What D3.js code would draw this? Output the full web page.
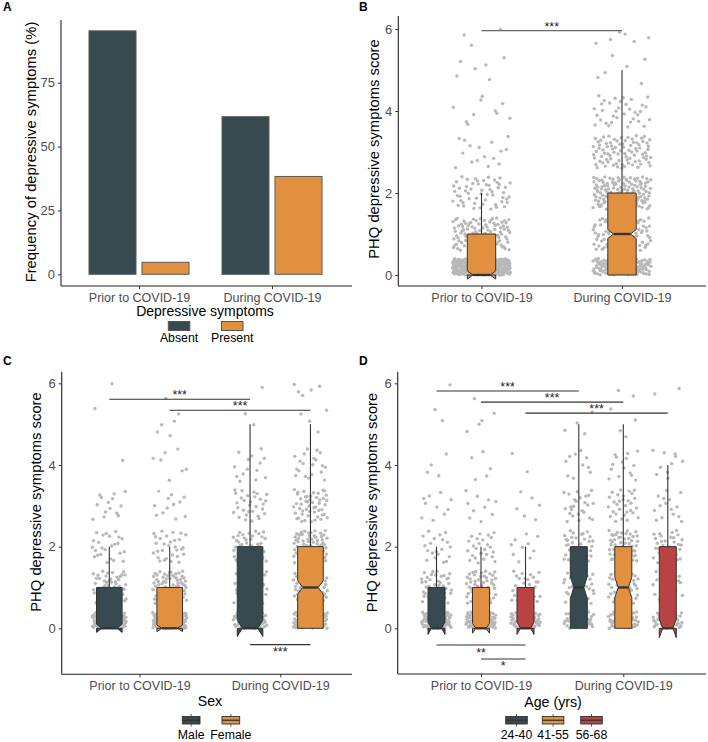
<!DOCTYPE html>
<html><head><meta charset="utf-8">
<script src="https://cdn.jsdelivr.net/npm/d3@7"></script>
<style>body{margin:0;background:#fff}svg{display:block;font-family:"Liberation Sans",Arial,Helvetica,sans-serif}</style>
</head><body><script>
// ================= DATA =================
const periods = ["Prior to COVID-19", "During COVID-19"];
const symptomGroups = ["Absent", "Present"];
const freqAbsent = [95.3, 61.7];
const freqPresent = [4.7, 38.3];
const freqTicks = [0, 25, 50, 75];
const scoreTicks = [0, 2, 4, 6];
const scoreLevels = [0, 1, 2, 3, 4, 5, 6];

// Panel B - respondents per PHQ score level (0..6)
const countsPrior  = [250, 110, 55, 16, 10, 6, 3];
const countsDuring = [120, 90, 140, 85, 35, 6, 6];
// box stats: [lowWhisker, q1, median, q3, highWhisker, notchHalfWidth]
const boxPrior  = [0, 0, 0, 1, 2, 0.10];
const boxDuring = [0, 0, 1, 2, 5, 0.11];
const sigB = [{p1: 0, p2: 1, y: 5.96, label: "***"}];

// Panel C - by sex
const sexGroups = ["Male", "Female"];
const countsMalePrior    = [100, 55, 25, 14, 1, 1, 1];
const countsFemalePrior  = [130, 75, 30, 12, 7, 5, 1];
const countsMaleDuring   = [55, 40, 45, 30, 14, 2, 1];
const countsFemaleDuring = [75, 65, 75, 50, 20, 4, 5];
const boxMalePrior    = [0, 0, 0, 1, 2, 0.10];
const boxFemalePrior  = [0, 0, 0, 1, 2, 0.08];
const boxMaleDuring   = [0, 0, 0, 2, 5, 0.20];
const boxFemaleDuring = [0, 0, 1, 2, 5, 0.17];
const sigC = [
  {p1: 0, g1: 0, p2: 1, g2: 0, y: 5.61, label: "***", below: false},
  {p1: 0, g1: 1, p2: 1, g2: 1, y: 5.34, label: "***", below: false},
  {p1: 1, g1: 0, p2: 1, g2: 1, y: -0.40, label: "***", below: true}
];

// Panel D - by age
const ageGroups = ["24-40", "41-55", "56-68"];
const countsAgePrior = [
  [75, 45, 20, 10, 4, 2, 1],
  [80, 55, 25, 10, 5, 4, 1],
  [55, 30, 10, 6, 2, 0, 0]
];
const countsAgeDuring = [
  [40, 35, 40, 25, 10, 4, 0],
  [50, 45, 55, 30, 15, 4, 2],
  [40, 20, 35, 15, 10, 0, 2]
];
const boxAgePrior = [
  [0, 0, 0, 1, 2, 0.15],
  [0, 0, 0, 1, 2, 0.12],
  [0, 0, 0, 1, 2, 0.15]
];
const boxAgeDuring = [
  [0, 0, 1, 2, 5, 0.28],
  [0, 0, 1, 2, 5, 0.25],
  [0, 0, 0, 2, 4, 0.23]
];
const sigD = [
  {p1: 0, g1: 0, p2: 1, g2: 0, y: 5.81, label: "***", below: false},
  {p1: 0, g1: 1, p2: 1, g2: 1, y: 5.54, label: "***", below: false},
  {p1: 0, g1: 2, p2: 1, g2: 2, y: 5.27, label: "***", below: false},
  {p1: 0, g1: 0, p2: 0, g2: 2, y: -0.41, label: "**", below: true},
  {p1: 0, g1: 1, p2: 0, g2: 2, y: -0.75, label: "*", below: true}
];

// ================= STYLE =================
const C_DARK = "#374a50", C_ORANGE = "#e0903f", C_RED = "#b84244";
const C_PT = "#b8b8b8", C_LINE = "#333333", C_TICK = "#4d4d4d";

const svg = d3.select("body").append("svg").attr("width", 708).attr("height", 742);

function halton(i, b) { let f = 1, r = 0; while (i > 0) { f /= b; r += f * (i % b); i = Math.floor(i / b); } return r; }

function axes(g, x, y, ticks, left, right, top, bottom, yTitle, yTitlePos, tickFmt) {
  // axis lines
  g.append("line").attr("x1", left).attr("x2", left).attr("y1", top).attr("y2", bottom)
    .attr("stroke", "#222").attr("stroke-width", 1.1);
  g.append("line").attr("x1", left).attr("x2", right).attr("y1", bottom).attr("y2", bottom)
    .attr("stroke", "#222").attr("stroke-width", 1.1);
  const ya = g.append("g").attr("transform", `translate(${left},0)`)
    .call(d3.axisLeft(y).tickValues(ticks).tickSize(3).tickPadding(3).tickFormat(tickFmt || d3.format("d")));
  ya.select(".domain").remove();
  ya.selectAll("line").attr("stroke", "#333");
  ya.selectAll("text").attr("fill", C_TICK).style("font-size", "13px").attr("font-family", null);
  const xa = g.append("g").attr("transform", `translate(0,${bottom})`)
    .call(d3.axisBottom(x).tickSize(3).tickPadding(4));
  xa.select(".domain").remove();
  xa.selectAll("line").attr("stroke", "#333");
  xa.selectAll("text").attr("fill", C_TICK).style("font-size", "12.5px").attr("font-family", null);
  g.append("text").attr("transform", `translate(${yTitlePos[0]},${yTitlePos[1]}) rotate(-90)`)
    .attr("text-anchor", "middle").attr("dominant-baseline", "central")
    .style("font-size", "14.8px").attr("fill", "#000").text(yTitle);
}

function points(g, cx, halfW, counts, y, seed) {
  let k = seed;
  const pts = [];
  counts.forEach((n, lvl) => {
    for (let j = 0; j < n; j++) {
      k++;
      const hx = halton(k, 2), hy = halton(k, 3);
      let off;
      if (scoreLevels[lvl] === 0) off = 0.4 * hy;
      else if (scoreLevels[lvl] === 6) off = -0.4 * hy;
      else off = (hy * 2 - 1) * 0.4;
      pts.push([cx + (hx * 2 - 1) * halfW, y(scoreLevels[lvl] + off)]);
    }
  });
  g.append("g").selectAll("circle").data(pts).join("circle")
    .attr("cx", d => d[0]).attr("cy", d => d[1]).attr("r", 1.7).attr("fill", C_PT);
}

function box(g, cx, w, s, y, fill) {
  const [lo, q1, med, q3, hi, nh] = s;
  const nw = 0.6;
  const x0 = cx - w / 2, x1 = cx + w / 2, m0 = cx - w * nw / 2, m1 = cx + w * nw / 2;
  g.append("line").attr("x1", cx).attr("x2", cx).attr("y1", y(q3)).attr("y2", y(hi))
    .attr("stroke", C_LINE).attr("stroke-width", 1.1);
  if (lo < q1) g.append("line").attr("x1", cx).attr("x2", cx).attr("y1", y(q1)).attr("y2", y(lo))
    .attr("stroke", C_LINE).attr("stroke-width", 1.1);
  const p = d3.path();
  p.moveTo(x0, y(q3)); p.lineTo(x1, y(q3)); p.lineTo(x1, y(med + nh)); p.lineTo(m1, y(med));
  p.lineTo(x1, y(med - nh)); p.lineTo(x1, y(q1)); p.lineTo(x0, y(q1)); p.lineTo(x0, y(med - nh));
  p.lineTo(m0, y(med)); p.lineTo(x0, y(med + nh)); p.closePath();
  g.append("path").attr("d", p.toString()).attr("fill", fill).attr("stroke", C_LINE).attr("stroke-width", 1);
  g.append("line").attr("x1", m0).attr("x2", m1).attr("y1", y(med)).attr("y2", y(med))
    .attr("stroke", C_LINE).attr("stroke-width", 2.3);
}

function sig(g, xa, xb, yv, y, label, below, color, sw) {
  g.append("line").attr("x1", xa).attr("x2", xb).attr("y1", y(yv)).attr("y2", y(yv))
    .attr("stroke", color).attr("stroke-width", sw);
  g.append("text").attr("x", (xa + xb) / 2).attr("y", y(yv) + (below ? 11.5 : 0))
    .attr("text-anchor", "middle").style("font-size", "12.5px").attr("fill", "#222").text(label);
}

function panelLabel(x, y, t) {
  svg.append("text").attr("x", x).attr("y", y).style("font-size", "12px").style("font-weight", "bold").text(t);
}

function boxLegend(g, title, titleX, titleY, labels, colors, keyXs, keyW) {
  g.append("text").attr("x", titleX).attr("y", titleY).attr("text-anchor", "middle")
    .style("font-size", "14.2px").text(title);
  labels.forEach((lab, i) => {
    const x = keyXs[i], cx = x + keyW / 2;
    g.append("line").attr("x1", cx).attr("x2", cx).attr("y1", 714).attr("y2", 726.5).attr("stroke", C_LINE).attr("stroke-width", 0.8);
    g.append("rect").attr("x", x).attr("y", 716.5).attr("width", keyW).attr("height", 7.5)
      .attr("fill", colors[i]).attr("stroke", C_LINE).attr("stroke-width", 0.9);
    g.append("line").attr("x1", x).attr("x2", x + keyW).attr("y1", 720.25).attr("y2", 720.25).attr("stroke", C_LINE).attr("stroke-width", 1.3);
    g.append("text").attr("x", cx).attr("y", 738.5).attr("text-anchor", "middle").style("font-size", "12.3px").text(lab);
  });
}

// ================= PANEL A =================
(function () {
  const g = svg.append("g");
  const x = d3.scalePoint().domain(periods).range([139, 272]);
  const sub = d3.scaleBand().domain(symptomGroups).range([-50, 50]).paddingInner(0.113);
  const y = d3.scaleLinear().domain([0, 75]).range([274.3, 82.7]);
  const colors = [C_DARK, C_ORANGE];
  const rows = periods.map((p, i) => [freqAbsent[i], freqPresent[i]]);
  periods.forEach((p, i) => {
    symptomGroups.forEach((sg, j) => {
      const v = rows[i][j];
      g.append("rect").attr("x", x(p) + sub(sg)).attr("width", sub.bandwidth())
        .attr("y", y(v)).attr("height", y(0) - y(v))
        .attr("fill", colors[j]).attr("stroke", "#5a5a5a").attr("stroke-width", 1);
    });
  });
  axes(g, x, y, freqTicks, 61, 352, 20, 286, "Frequency of depressive symptoms (%)", [30.5, 152]);
  g.append("text").attr("x", 205).attr("y", 316).attr("text-anchor", "middle").style("font-size", "14px").text("Depressive symptoms");
  const keyX = [168.3, 221.5];
  symptomGroups.forEach((sg, j) => {
    g.append("rect").attr("x", keyX[j]).attr("y", 321.5).attr("width", 21.5).attr("height", 9)
      .attr("fill", colors[j]).attr("stroke", "#555").attr("stroke-width", 1);
    g.append("text").attr("x", keyX[j] + 10.75).attr("y", 341.5).attr("text-anchor", "middle").style("font-size", "12.3px").text(sg);
  });
  panelLabel(3, 11, "A");
})();

// ================= PANEL B =================
(function () {
  const g = svg.append("g");
  const x = d3.scalePoint().domain(periods).range([481.5, 622]);
  const y = d3.scaleLinear().domain([0, 6]).range([275, 29]);
  points(g, x(periods[0]), 29, countsPrior, y, 10);
  points(g, x(periods[1]), 29, countsDuring, y, 2000);
  box(g, x(periods[0]), 28.4, boxPrior, y, C_ORANGE);
  box(g, x(periods[1]), 28.4, boxDuring, y, C_ORANGE);
  sigB.forEach(s => sig(g, x(periods[s.p1]), x(periods[s.p2]), s.y, y, s.label, false, "#666", 1.4));
  axes(g, x, y, scoreTicks, 398.3, 706, 16, 286, "PHQ depressive symptoms score", [374, 149]);
  panelLabel(359, 11, "B");
})();

// ================= PANEL C =================
(function () {
  const g = svg.append("g");
  const x = d3.scalePoint().domain(periods).range([139.5, 280.25]);
  const sub = d3.scalePoint().domain(sexGroups).range([-30.2, 30.2]);
  const y = d3.scaleLinear().domain([0, 6]).range([628.3, 383.3]);
  const counts = [[countsMalePrior, countsFemalePrior], [countsMaleDuring, countsFemaleDuring]];
  const stats = [[boxMalePrior, boxFemalePrior], [boxMaleDuring, boxFemaleDuring]];
  const colors = [C_DARK, C_ORANGE];
  const cx = (p, s) => x(periods[p]) + sub(sexGroups[s]);
  periods.forEach((p, i) => sexGroups.forEach((sg, j) => points(g, cx(i, j), 17, counts[i][j], y, 100 + i * 700 + j * 350)));
  periods.forEach((p, i) => sexGroups.forEach((sg, j) => box(g, cx(i, j), 25.6, stats[i][j], y, colors[j])));
  sigC.forEach(s => sig(g, cx(s.p1, s.g1), cx(s.p2, s.g2), s.y, y, s.label, s.below, "#333", 1.1));
  axes(g, x, y, scoreTicks, 61.7, 352, 371.7, 674.3, "PHQ depressive symptoms score", [36, 502]);
  boxLegend(g, "Sex", 210, 706, sexGroups, colors, [182.3, 222], 17.7);
  panelLabel(3, 365, "C");
})();

// ================= PANEL D =================
(function () {
  const g = svg.append("g");
  const x = d3.scalePoint().domain(periods).range([481, 623.3]);
  const sub = d3.scalePoint().domain(ageGroups).range([-44.5, 44.5]);
  const y = d3.scaleLinear().domain([0, 6]).range([628.3, 383.3]);
  const counts = [countsAgePrior, countsAgeDuring];
  const stats = [boxAgePrior, boxAgeDuring];
  const colors = [C_DARK, C_ORANGE, C_RED];
  const cx = (p, s) => x(periods[p]) + sub(ageGroups[s]);
  periods.forEach((p, i) => ageGroups.forEach((a, j) => points(g, cx(i, j), 15, counts[i][j], y, 50 + i * 900 + j * 300)));
  periods.forEach((p, i) => ageGroups.forEach((a, j) => box(g, cx(i, j), 17, stats[i][j], y, colors[j])));
  sigD.forEach(s => sig(g, cx(s.p1, s.g1), cx(s.p2, s.g2), s.y, y, s.label, s.below, "#333", 1.1));
  axes(g, x, y, scoreTicks, 397.7, 706, 371.7, 674, "PHQ depressive symptoms score", [371.5, 502.5]);
  boxLegend(g, "Age (yrs)", 553, 706.5, ageGroups, colors, [505.7, 542.3, 580.7], 21.6);
  panelLabel(359, 365, "D");
})();
</script></body></html>
